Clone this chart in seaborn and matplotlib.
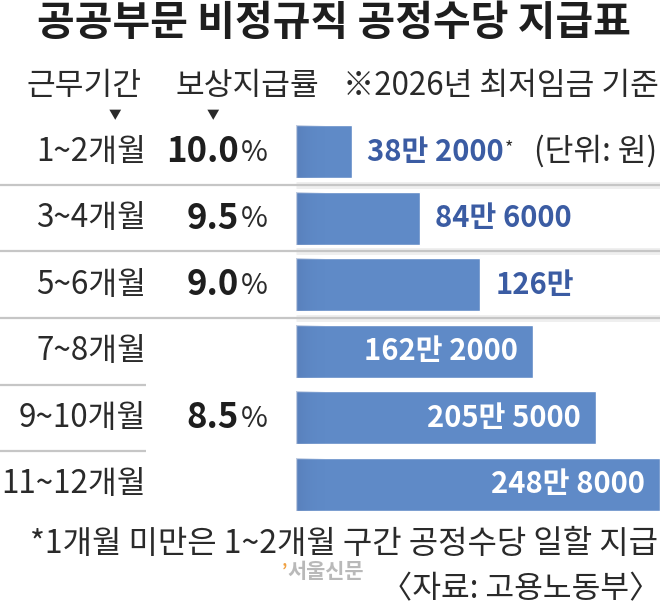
import matplotlib
matplotlib.use("Agg")
import matplotlib.pyplot as plt
import matplotlib.transforms as mtransforms
from matplotlib.colors import LinearSegmentedColormap
import numpy as np
import seaborn as sns
import pandas as pd

# ---------------- data ----------------
periods = ["1~2개월", "3~4개월", "5~6개월", "7~8개월", "9~10개월", "11~12개월"]
amounts = [382000, 846000, 1260000, 1622000, 2055000, 2488000]
rates = [10.0, 9.5, 9.0, 8.5, 8.5, 8.5]
title = "공공부문 비정규직 공정수당 지급표"
col_headers = ["근무기간", "보상지급률"]
basis_note = "※2026년 최저임금 기준"
unit_note = "(단위: 원)"
footnote = "*1개월 미만은 1~2개월 구간 공정수당 일할 지급"
source = "〈자료: 고용노동부〉"
watermark = "서울신문"

# ---------------- style ----------------
sns.set_theme(style="white")
FAM = ["Noto Sans CJK KR", "DejaVu Sans"]
plt.rcParams["font.family"] = FAM

BAR = "#5f8ac7"
BLUE_TXT = "#3b5ca3"
DARK = "#2a2a2a"
W, H = 660, 608

fig = plt.figure(figsize=(W / 100, H / 100), dpi=100)
fig.patch.set_facecolor("white")

top_px, bot_px = 118.3, 517.7
ax = fig.add_axes([296 / W, 1 - bot_px / H, 364 / W, (bot_px - top_px) / H])
df = pd.DataFrame({"period": periods, "amount": amounts})
sns.barplot(data=df, x="amount", y="period", orient="h", color=BAR,
            saturation=1, width=0.8, ax=ax, zorder=3)
ax.set_xlim(0, 2490000)
ax.set_ylim(len(periods) - 0.5, -0.5)
ax.axis("off")

# subtle darker shading at the left edge of each bar
shade = LinearSegmentedColormap.from_list("shade", [(0.30, 0.43, 0.66, 0.35),
                                                     (0.37, 0.54, 0.78, 0.0)])
grad = np.linspace(0, 1, 64).reshape(1, -1)
x_per_px = 2490000 / 364
for patch in ax.patches:
    bb = patch.get_bbox()
    im = ax.imshow(grad, cmap=shade, aspect="auto", zorder=4,
                   extent=(bb.x0, bb.x0 + 30 * x_per_px, bb.y1, bb.y0),
                   interpolation="bilinear")
    im.set_clip_path(patch)
ax.set_xlim(0, 2490000)
ax.set_ylim(len(periods) - 0.5, -0.5)

trans = mtransforms.blended_transform_factory(fig.transFigure, ax.transData)
fx = lambda x: x / W
fy = lambda y: 1 - y / H

# ---------------- separators ----------------
for i in range(len(periods) - 1):
    y = i + 0.5
    if rates[i] != rates[i + 1]:
        ax.plot([fx(296), fx(660)], [y, y], transform=trans, color="#efefef",
                lw=5, solid_capstyle="butt", clip_on=False, zorder=1)
        ax.plot([fx(0), fx(660)], [y, y], transform=trans, color="#c6c6c6",
                lw=1.6, solid_capstyle="butt", clip_on=False, zorder=2)
    else:
        ax.plot([fx(0), fx(146)], [y, y], transform=trans, color="#c6c6c6",
                lw=1.6, solid_capstyle="butt", clip_on=False, zorder=2)

# ---------------- period labels ----------------
for i, p in enumerate(periods):
    ax.text(fx(146), i, p, transform=trans, ha="right", va="center",
            fontsize=22.6, color=DARK)

# ---------------- rate labels (merged runs) ----------------
runs = []
start = 0
for i in range(1, len(rates) + 1):
    if i == len(rates) or rates[i] != rates[start]:
        runs.append((start, i - 1, rates[start]))
        start = i
for a, b, r in runs:
    yc = (a + b) / 2
    t = ax.text(fx(239), yc, f"{r:.1f}", transform=trans, ha="right",
                va="center", fontsize=25, fontweight="black", color="#1e1e1e")
    ax.annotate("%", xy=(1, 0), xycoords=t, xytext=(1.5, 1),
                textcoords="offset points", ha="left", va="bottom",
                fontsize=21, fontweight="light", color=DARK)

# ---------------- value labels ----------------
def fmt(v):
    man, rest = divmod(v, 10000)
    return f"{man}만 {rest}" if rest else f"{man}만"

for i, v in enumerate(amounts):
    if v > 1500000:
        ax.annotate(fmt(v), xy=(v, i), xytext=(-11, 0), textcoords="offset points",
                    ha="right", va="center", fontsize=21, fontweight="bold",
                    color="white", zorder=5)
    else:
        t = ax.annotate(fmt(v), xy=(v, i), xytext=(11, 0), textcoords="offset points",
                        ha="left", va="center", fontsize=21, fontweight="bold",
                        color=BLUE_TXT, zorder=5, annotation_clip=False)
        if i == 0:
            ax.annotate("*", xy=(1, 1), xycoords=t, xytext=(0.5, -2),
                        textcoords="offset points", ha="left", va="top",
                        fontsize=13, color=DARK)
            ax.text(fx(657), i, unit_note, transform=trans, ha="right",
                    va="center", fontsize=22.5, color=DARK)

# ---------------- title & headers ----------------
fig.text(fx(334), fy(23), title, ha="center", va="center", fontsize=29.5,
         fontweight="black", color="#1e1e1e")
fig.text(fx(84), fy(86), col_headers[0], ha="center", va="center",
         fontsize=22.5, color=DARK)
fig.text(fx(247), fy(86), col_headers[1], ha="center", va="center",
         fontsize=22.5, color=DARK)
fig.text(fx(659), fy(86), basis_note, ha="right", va="center",
         fontsize=22.5, color=DARK)
fig.text(fx(115), fy(116), "▼", ha="center", va="center", fontsize=9, color=DARK)
fig.text(fx(213), fy(116), "▼", ha="center", va="center", fontsize=9, color=DARK)

# ---------------- footer ----------------
fig.text(fx(658), fy(544), footnote, ha="right", va="center",
         fontsize=23, color=DARK)
fig.text(fx(287), fy(571), watermark, ha="left", va="center", fontsize=15,
         fontweight="bold", color="#b9b9b9")
fig.text(fx(287), fy(572), "’", ha="right", va="center", fontsize=12,
         fontweight="bold", color="#f0a040")
fig.text(fx(660), fy(589), source, ha="right", va="center",
         fontsize=22.5, color=DARK)

fig.savefig("out.png", dpi=100, facecolor="white")
